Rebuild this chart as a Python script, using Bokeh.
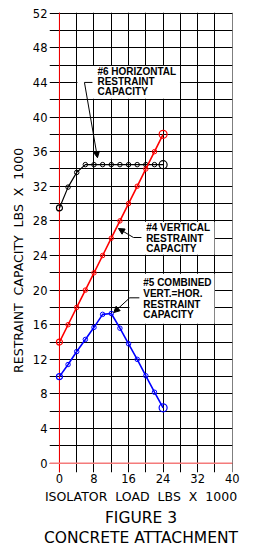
from math import pi
from bokeh.plotting import figure
from bokeh.models import (SingleIntervalTicker, FixedTicker, Span, BoxAnnotation,
                          Label, Arrow, NormalHead, Range1d, Title)
from bokeh.embed import file_html
from bokeh.resources import INLINE

# ---- data ----
load_x = [0, 2, 4, 6, 8, 10, 12, 14, 16, 18, 20, 22, 24]
horizontal_capacity = [29.5, 31.9, 33.6, 34.5, 34.5, 34.5, 34.5, 34.5, 34.5, 34.5, 34.5, 34.5, 34.5]
vertical_capacity = [14, 16, 18, 20, 22, 24, 26, 28, 30, 32, 34, 36, 38]
combined_capacity = [10.0, 11.4, 12.9, 14.3, 15.7, 17.2, 17.3, 15.6, 13.8, 12.0, 10.1, 8.2, 6.4]

x_ticks = [0, 8, 16, 24, 32, 40]
y_ticks = [0, 4, 8, 12, 16, 20, 24, 28, 32, 36, 40, 44, 48, 52]

NB = "\u00a0"

p = figure(width=262, height=548,
           x_range=Range1d(-2.3, 40.06), y_range=Range1d(-1.075, 52.08),
           output_backend="svg", toolbar_location=None,
           min_border_left=49, min_border_right=30, min_border_top=12, min_border_bottom=76,
           background_fill_color="white", border_fill_color="white",
           outline_line_color=None)

# grid
p.xgrid.ticker = SingleIntervalTicker(interval=4)
p.ygrid.ticker = SingleIntervalTicker(interval=2)
for g in (p.xgrid, p.ygrid):
    g.grid_line_color = "black"
    g.grid_line_width = 1
    g.grid_line_alpha = 1

# axes
p.xaxis.ticker = FixedTicker(ticks=x_ticks)
p.yaxis.ticker = FixedTicker(ticks=y_ticks)
for ax in (p.xaxis, p.yaxis):
    ax.axis_line_color = None
    ax.major_tick_line_color = None
    ax.minor_tick_line_color = None
    ax.major_tick_in = 0
    ax.major_tick_out = 0
    ax.major_label_text_font = "DejaVu Sans"
    ax.major_label_text_font_size = "11.5px"
    ax.major_label_text_color = "black"
    ax.axis_label_text_font = "DejaVu Sans"
    ax.axis_label_text_font_size = "12.5px"
    ax.axis_label_text_font_style = "normal"
    ax.axis_label_text_color = "black"
p.xaxis.major_label_standoff = 1
p.yaxis.major_label_standoff = 2
p.xaxis.axis_label = "ISOLATOR" + NB + " LOAD" + NB + " LBS" + NB + " X" + NB + " 1000"
p.xaxis.axis_label_standoff = 3
p.yaxis.axis_label = ("RESTRAINT" + NB + " CAPACITY" + NB + " LBS" + NB + " X" + NB + " 1000"
                      + NB * 9)
p.yaxis.axis_label_standoff = 4

# figure caption below the x-axis
for txt in ["FIGURE 3", "CONCRETE ATTACHMENT"]:
    p.add_layout(Title(text=txt, align="center", offset=4, standoff=0,
                       text_font="DejaVu Sans", text_font_size="15.5px",
                       text_font_style="normal", text_color="black"), "below")

# red axis lines
p.add_layout(Span(location=0, dimension="height", line_color="#ff0000", line_width=1, level="underlay"))
p.add_layout(Span(location=0, dimension="width", line_color="#f47a7a", line_width=1.5, level="underlay"))

# series
series = [(horizontal_capacity, "black", 1.2),
          (vertical_capacity, "#ff0000", 1.6),
          (combined_capacity, "#0000ff", 1.6)]
for ys, col, lw in series:
    p.line(load_x, ys, line_color=col, line_width=lw)
    p.scatter(load_x[1:-1], ys[1:-1], size=4.5, marker="circle",
              fill_color=None, line_color=col, line_width=1)
    p.scatter([load_x[0], load_x[-1]], [ys[0], ys[-1]], size=[6, 8], marker="circle",
              fill_color=None, line_color=col, line_width=1.2)

# label boxes
for l, r, b, t in [(4.15, 27.9, 42.1, 45.9), (16.2, 35.9, 24.1, 27.9), (16.2, 35.9, 16.1, 21.9)]:
    p.add_layout(BoxAnnotation(left=l, right=r, bottom=b, top=t,
                               fill_color="white", fill_alpha=1, line_color=None))

# leaders
leaders = [((5.79, 44.0), 7.64, (8.8, 35.3)),
           ((17.13, 26.08), 18.98, (13.66, 27.12)),
           ((16.27, 19.11), 18.5, (12.57, 17.41))]
for (sx, sy), hx, (tx, ty) in leaders:
    p.add_layout(Arrow(end=None, x_start=sx, y_start=sy, x_end=hx, y_end=sy,
                       line_color="black", line_width=1))
    p.add_layout(Arrow(end=NormalHead(size=6, fill_color="black", line_color="black", line_width=1),
                       x_start=sx, y_start=sy, x_end=tx, y_end=ty,
                       line_color="black", line_width=1))

# annotation texts
notes = [(8.8, [45.24, 44.09, 42.93], ["#6 HORIZONTAL", "RESTRAINT", "CAPACITY"]),
         (20.07, [27.27, 26.0, 24.77], ["#4 VERTICAL", "RESTRAINT", "CAPACITY"]),
         (19.4, [20.92, 19.57, 18.34, 17.15], ["#5 COMBINED", "VERT.=HOR.", "RESTRAINT", "CAPACITY"])]
for x0, ys, lines in notes:
    for yy, txt in zip(ys, lines):
        p.add_layout(Label(x=x0, y=yy, text=txt, text_font="Liberation Sans",
                           text_font_style="bold", text_font_size="10px",
                           text_align="left", text_baseline="middle", text_color="black"))

open("out.html", "w").write(file_html(p, INLINE))
